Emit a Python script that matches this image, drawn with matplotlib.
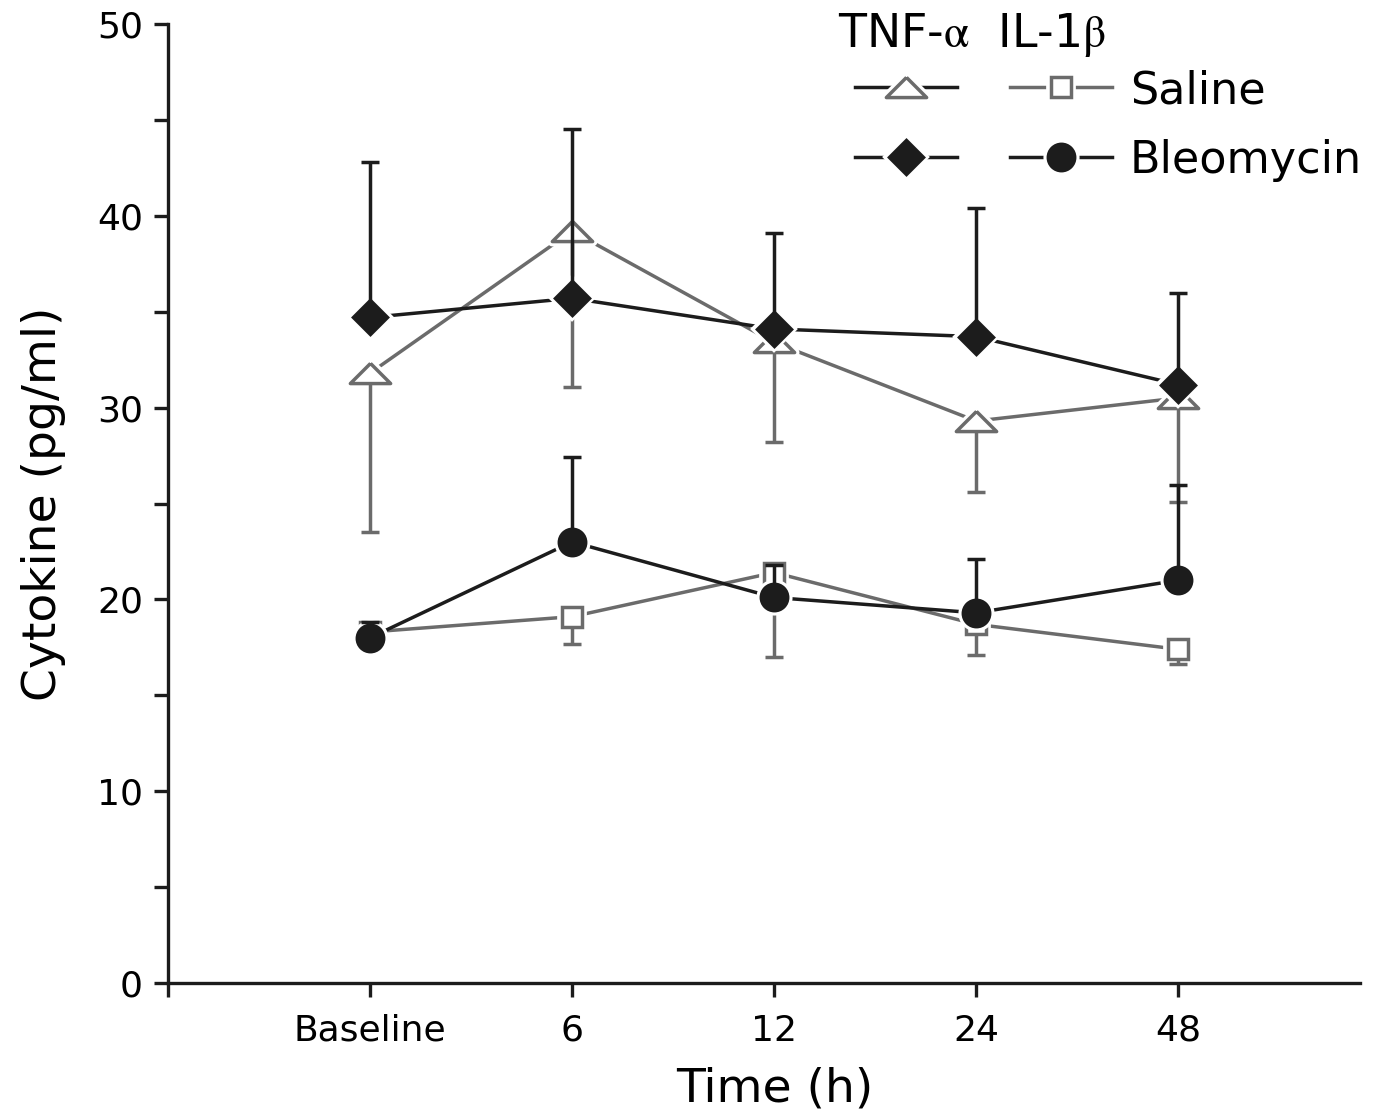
import matplotlib
matplotlib.use("Agg")
import matplotlib.pyplot as plt
from matplotlib.lines import Line2D
from matplotlib.legend_handler import HandlerTuple
from matplotlib.ticker import MultipleLocator, FixedLocator

plt.rcParams["mathtext.fontset"] = "stix"

# Time points
time_labels = ["Baseline", "6", "12", "24", "48"]

# TNF-alpha (pg/ml), mean and one-sided SD
tnf_saline = [31.8, 39.2, 33.4, 29.3, 30.5]
tnf_saline_err = [8.3, 8.1, 5.2, 3.7, 5.4]
tnf_bleo = [34.7, 35.7, 34.1, 33.7, 31.2]
tnf_bleo_err = [8.1, 8.8, 5.0, 6.7, 4.8]

# IL-1beta (pg/ml), mean and one-sided SD
il1_saline = [18.3, 19.1, 21.4, 18.7, 17.4]
il1_saline_err = [0.3, 1.4, 4.4, 1.6, 0.75]
il1_bleo = [18.0, 23.0, 20.1, 19.3, 21.0]
il1_bleo_err = [0.8, 4.4, 1.7, 2.8, 4.95]

BLACK = "#1c1c1c"
GRAY = "#6b6b6b"
LW = 2.5

# wide, flat triangle marker
flat_tri = [(0, 0.5), (-1, -0.5), (1, -0.5), (0, 0.5)]

fig = plt.figure(figsize=(13.8, 11.19), dpi=100)
ax = fig.add_axes([168 / 1380, 1 - 983 / 1119, (1360 - 168) / 1380, (983 - 24) / 1119])

x = list(range(1, len(time_labels) + 1))

series = [
    # values, err, direction, color, marker, size, face, zorder
    (tnf_saline, tnf_saline_err, -1, GRAY, flat_tri, 29, "white", 3),
    (il1_saline, il1_saline_err, -1, GRAY, "s", 14, "white", 3),
    (tnf_bleo, tnf_bleo_err, +1, BLACK, "D", 17, BLACK, 5),
    (il1_bleo, il1_bleo_err, +1, BLACK, "o", 19, BLACK, 5),
]

handles = []
for vals, err, sign, col, mk, ms, fc, z in series:
    ax.plot(x, vals, color=col, lw=LW, zorder=z, solid_capstyle="butt")
    if sign > 0:
        yerr = [[0] * len(err), err]
    else:
        yerr = [err, [0] * len(err)]
    ax.errorbar(x, vals, yerr=yerr, fmt="none", ecolor=col, elinewidth=LW,
                capsize=6.8, capthick=LW, zorder=z + 0.5)
    # white halo leaves a small gap between the line and the symbol
    ax.plot(x, vals, ls="none", marker=mk, ms=ms, mfc="white", mec="white",
            mew=7, zorder=z + 0.2)
    ax.plot(x, vals, ls="none", marker=mk, ms=ms, mfc=fc, mec=col,
            mew=2.5, zorder=z + 1)
    h_line = Line2D([], [], color=col, lw=LW)
    h_halo = Line2D([], [], ls="none", marker=mk, ms=ms, mfc="white",
                    mec="white", mew=7)
    h_mark = Line2D([], [], ls="none", marker=mk, ms=ms, mfc=fc, mec=col, mew=2.5)
    handles.append((h_line, h_halo, h_mark))

# the TNF-alpha saline key uses a black line
handles[0] = (Line2D([], [], color=BLACK, lw=LW),) + handles[0][1:]

ax.set_xlim(0, 5.9)
ax.set_ylim(0, 50)
ax.xaxis.set_major_locator(FixedLocator([0] + x))
ax.set_xticklabels([""] + time_labels)
ax.yaxis.set_major_locator(MultipleLocator(10))
ax.yaxis.set_minor_locator(MultipleLocator(5))

for side in ("top", "right"):
    ax.spines[side].set_visible(False)
for side in ("left", "bottom"):
    ax.spines[side].set_linewidth(2.4)
    ax.spines[side].set_color(BLACK)
ax.tick_params(which="both", direction="out", length=10, width=2.4,
               color=BLACK, labelsize=26, pad=8)
ax.tick_params(axis="x", pad=12)

ax_h = 983 - 24
ax_w = 1360 - 168
ax.set_xlabel("Time (h)", fontsize=34)
ax.xaxis.set_label_coords((775 - 168) / ax_w, -(1066 - 983) / ax_h)
ax.set_ylabel("Cytokine (pg/ml)", fontsize=34)
ax.yaxis.set_label_coords(-(168 - 66) / ax_w, 0.5)

order = [handles[0], handles[2], handles[1], handles[3]]
labels = ["", "", "Saline", "Bleomycin"]
leg = ax.legend(order, labels, ncol=2, loc="upper left",
                bbox_to_anchor=((855 - 168) / ax_w, 1 - (69 - 24) / ax_h),
                handler_map={tuple: HandlerTuple(ndivide=1, pad=0)},
                fontsize=32, frameon=False, handlelength=2.3,
                handletextpad=0.4, columnspacing=0.79, labelspacing=0.6,
                borderaxespad=0, borderpad=0)

fig.text(838 / 1380, 1 - 35 / 1119, r"TNF-$\mathrm{\alpha}$  IL-1$\mathrm{\beta}$",
         fontsize=33, ha="left", va="center")

fig.savefig("out.png", dpi=100)
